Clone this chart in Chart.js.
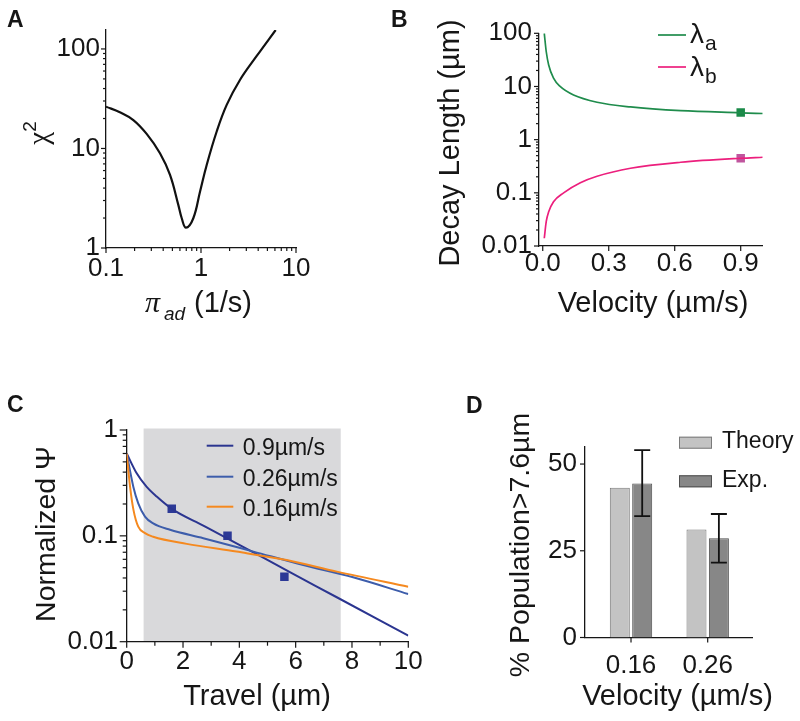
<!DOCTYPE html>
<html><head><meta charset="utf-8">
<script src="https://cdn.jsdelivr.net/npm/chart.js@4.4.0/dist/chart.umd.min.js"></script>
<style>
html,body{margin:0;padding:0;background:#fff;width:800px;height:721px;overflow:hidden;position:relative;}
canvas{position:absolute;}
</style></head><body>
<canvas id="cA" width="400" height="330" style="left:0px;top:0px;width:400px;height:330px"></canvas>
<canvas id="cB" width="420" height="330" style="left:380px;top:0px;width:420px;height:330px"></canvas>
<canvas id="cC" width="440" height="391" style="left:0px;top:330px;width:440px;height:391px"></canvas>
<canvas id="cD" width="360" height="391" style="left:440px;top:330px;width:360px;height:391px"></canvas>
<script>
// ---------- Panel A data ----------
const aX = [0.1, 0.14, 0.194, 0.268, 0.37, 0.472, 0.577, 0.627, 0.695, 0.83, 0.976, 1.148, 1.463, 1.864, 2.57, 3.86, 6.11];
const aY = [26.3, 23.1, 19.3, 14.0, 8.95, 5.42, 2.71, 1.99, 1.60, 1.99, 3.68, 6.83, 14.8, 27.4, 48.8, 85, 155];
const aXTicks = [0.1, 1, 10];
const aXLabels = ['0.1', '1', '10'];
const aYTicks = [1, 10, 100];
const aYLabels = ['1', '10', '100'];

// ---------- Panel B data ----------
const bXa = [0.007, 0.016, 0.027, 0.049, 0.079, 0.14, 0.247, 0.399, 0.627, 0.9, 1.0];
const bLamA = [100, 45, 25.4, 14.3, 10, 6.9, 5.05, 4.12, 3.5, 3.2, 3.1];
const bXb = [0.007, 0.016, 0.027, 0.049, 0.095, 0.171, 0.247, 0.399, 0.627, 0.9, 1.0];
const bLamB = [0.014, 0.029, 0.044, 0.068, 0.100, 0.155, 0.205, 0.29, 0.376, 0.447, 0.467];
const bMarkX = [0.9];
const bMarkA = [3.23];
const bMarkB = [0.447];
const bXTicks = [0, 0.3, 0.6, 0.9];
const bXLabels = ['0.0', '0.3', '0.6', '0.9'];
const bYTicks = [0.01, 0.1, 1, 10, 100];
const bYLabels = ['0.01', '0.1', '1', '10', '100'];

// ---------- Panel C data ----------
const cX09 = [0, 0.355, 0.71, 1.065, 1.6, 2.72, 3.9, 5.68, 7.46, 10];
const cY09 = [0.60, 0.39, 0.29, 0.235, 0.18, 0.125, 0.085, 0.0472, 0.0263, 0.0114];
const cX026 = [0, 0.237, 0.41, 0.65, 0.94, 1.54, 2.72, 4.5, 6.27, 8.04, 10];
const cY026 = [0.60, 0.29, 0.203, 0.152, 0.131, 0.114, 0.095, 0.071, 0.053, 0.0406, 0.0282];
const cX016 = [0, 0.12, 0.24, 0.41, 0.65, 0.94, 2.13, 3.9, 5.68, 7.46, 10];
const cY016 = [0.60, 0.29, 0.176, 0.122, 0.106, 0.098, 0.084, 0.071, 0.059, 0.0459, 0.0331];
const cExpX = [1.6, 3.58, 5.6];
const cExpY = [0.18, 0.10, 0.041];
const cShade = [0.6, 7.6];
const cSeries = ['0.9\u00b5m/s', '0.26\u00b5m/s', '0.16\u00b5m/s'];
const cXTicks = [0, 2, 4, 6, 8, 10];
const cXMinor = [1, 3, 5, 7, 9];
const cXLabels = ['0', '2', '4', '6', '8', '10'];
const cYTicks = [0.01, 0.1, 1];
const cYLabels = ['0.01', '0.1', '1'];

// ---------- Panel D data ----------
const dCats = ['0.16', '0.26'];
const dTheory = [43.2, 31.1];
const dExp = [44.4, 28.6];
const dErrLo = [35.0, 21.6];
const dErrHi = [54.0, 35.6];
const dYTicks = [0, 25, 50];
const dYLabels = ['0', '25', '50'];

// ---------- helpers ----------
const FF = "'Liberation Sans', Arial, Helvetica, sans-serif";
const SERIF = "'Liberation Serif', 'Times New Roman', serif";
const INK = '#161616';
const pts = (xs, ys) => xs.map((x, i) => ({x: x, y: ys[i]}));
function logMinor(lo, hi) {
  const r = [];
  for (let e = Math.floor(Math.log10(lo)); e <= Math.ceil(Math.log10(hi)); e++) {
    for (let m = 2; m <= 9; m++) { const v = m * Math.pow(10, e); if (v >= lo && v <= hi) r.push(v); }
  }
  return r;
}
function sc(type, min, max, tickVals, labels, pad, fit, pos) {
  return {
    type: type, min: min, max: max, position: pos, offset: false,
    grid: {display: false, drawTicks: false},
    border: {display: true, color: INK, width: 1.3},
    afterBuildTicks: s => { s.ticks = tickVals.map(v => ({value: v})); },
    afterFit: fit,
    ticks: {autoSkip: false, maxRotation: 0, minRotation: 0, color: INK, padding: pad,
      font: {family: FF, size: 26}, callback: (v, i) => labels[i]}
  };
}
function tickPlugin(list) {
  return {id: 'tickMarks', afterDraw(chart) {
    const ctx = chart.ctx, ca = chart.chartArea;
    ctx.save(); ctx.strokeStyle = INK; ctx.lineWidth = 1.2;
    list.forEach(t => {
      const s = chart.scales[t.axis];
      [[t.major, t.majLen], [t.minor || [], t.minLen]].forEach(([vals, len]) => {
        vals.forEach(v => {
          const p = s.getPixelForValue(v);
          ctx.beginPath();
          if (s.isHorizontal()) { ctx.moveTo(p, ca.bottom); ctx.lineTo(p, ca.bottom + len); }
          else { ctx.moveTo(ca.left, p); ctx.lineTo(ca.left - len, p); }
          ctx.stroke();
        });
      });
    });
    ctx.restore();
  }};
}
function T(text, x, y, font, opts) {
  return Object.assign({kind: 'text', x: x, y: y, runs: [{t: text, font: font}], align: 'left'}, opts || {});
}
function drawPlugin(ox, oy, items) {
  return {id: 'texts', afterDraw(chart) {
    const ctx = chart.ctx;
    items.forEach(it => {
      ctx.save();
      if (it.kind === 'line') {
        ctx.strokeStyle = it.color; ctx.lineWidth = it.width;
        ctx.beginPath(); ctx.moveTo(it.x1 - ox, it.y - oy); ctx.lineTo(it.x2 - ox, it.y - oy); ctx.stroke();
      } else if (it.kind === 'box') {
        ctx.fillStyle = it.fill; ctx.strokeStyle = it.stroke; ctx.lineWidth = 1;
        ctx.fillRect(it.x - ox, it.y - oy, it.w, it.h);
        ctx.strokeRect(it.x - ox + 0.5, it.y - oy + 0.5, it.w - 1, it.h - 1);
      } else {
        ctx.translate(it.x - ox, it.y - oy);
        if (it.rot) ctx.rotate(-Math.PI / 2);
        ctx.fillStyle = it.color || INK;
        ctx.textBaseline = 'alphabetic'; ctx.textAlign = 'left';
        let w = 0;
        it.runs.forEach(r => { ctx.font = r.font; r._w = ctx.measureText(r.t).width; w += (r.dx || 0) + r._w; });
        let cx = it.align === 'center' ? -w / 2 : (it.align === 'right' ? -w : 0);
        it.runs.forEach(r => { ctx.font = r.font; cx += (r.dx || 0); ctx.fillText(r.t, cx, r.dy || 0); cx += r._w; });
      }
      ctx.restore();
    });
  }};
}
const baseOpts = (pad) => ({
  responsive: false, animation: false, devicePixelRatio: 1,
  layout: {padding: pad},
  plugins: {legend: {display: false}, tooltip: {enabled: false}},
  elements: {point: {radius: 0, hoverRadius: 0}}
});
const TITLE = '29px ' + FF;

// ---------- Chart A ----------
(function () {
  const o = baseOpts({left: 0, top: 30, right: 104, bottom: 0});
  o.scales = {
    x: sc('logarithmic', 0.1, 10, aXTicks, aXLabels, 5, s => { s.height = 82; }, 'bottom'),
    y: sc('logarithmic', 1, 155, aYTicks, aYLabels, 6, s => { s.width = 106; }, 'left')
  };
  new Chart(document.getElementById('cA'), {
    type: 'line',
    data: {datasets: [{data: pts(aX, aY), borderColor: '#111', borderWidth: 2.2, pointRadius: 0,
      tension: 0.4, fill: false}]},
    options: o,
    plugins: [
      tickPlugin([
        {axis: 'x', major: aXTicks, majLen: 5, minor: logMinor(0.1, 10), minLen: 3},
        {axis: 'y', major: aYTicks, majLen: 5, minor: logMinor(1, 155), minLen: 3}
      ]),
      drawPlugin(0, 0, [
        T('A', 7, 27, 'bold 23px ' + FF),
        {kind: 'text', x: 48, y: 133, rot: true, align: 'center', runs: [
          {t: '\u03c7', font: '29px ' + SERIF}, {t: '2', font: '19px ' + FF, dy: -12}]},
        T('\u03c0', 145, 312, 'italic 30px ' + SERIF),
        T('ad', 164, 320, 'italic 19px ' + FF),
        T('(1/s)', 194, 312, TITLE)
      ])
    ]
  });
})();

// ---------- Chart B ----------
(function () {
  const ox = 380, oy = 0;
  const o = baseOpts({left: 0, top: 33.3, right: 37.3, bottom: 0});
  o.scales = {
    x: sc('linear', -0.017, 1.0, bXTicks, bXLabels, 2, s => { s.height = 84; }, 'bottom'),
    y: sc('logarithmic', 0.01, 100, bYTicks, bYLabels, 7, s => { s.width = 159; }, 'left')
  };
  new Chart(document.getElementById('cB'), {
    type: 'line',
    data: {datasets: [
      {data: pts(bXa, bLamA), borderColor: '#1f8c4c', borderWidth: 1.7, pointRadius: 0, cubicInterpolationMode: 'monotone'},
      {data: pts(bXb, bLamB), borderColor: '#ec1f7d', borderWidth: 1.7, pointRadius: 0, cubicInterpolationMode: 'monotone'},
      {data: pts(bMarkX, bMarkA), showLine: false, pointStyle: 'rect', pointRadius: 6, backgroundColor: '#1a8a48', borderWidth: 0},
      {data: pts(bMarkX, bMarkB), showLine: false, pointStyle: 'rect', pointRadius: 6, backgroundColor: '#c0559e', borderWidth: 0}
    ]},
    options: o,
    plugins: [
      tickPlugin([
        {axis: 'x', major: bXTicks, majLen: 5},
        {axis: 'y', major: bYTicks, majLen: 5, minor: logMinor(0.01, 100), minLen: 3}
      ]),
      drawPlugin(ox, oy, [
        T('B', 391, 27, 'bold 23px ' + FF),
        T('Decay Length (\u00b5m)', 459, 143, TITLE, {rot: true, align: 'center'}),
        T('Velocity (\u00b5m/s)', 653, 312, TITLE, {align: 'center'}),
        {kind: 'line', x1: 658, x2: 686, y: 35, color: '#1f8c4c', width: 1.7},
        {kind: 'line', x1: 658, x2: 686, y: 67, color: '#ec1f7d', width: 1.7},
        {kind: 'text', x: 690, y: 43, runs: [{t: '\u03bb', font: '28px ' + FF}, {t: 'a', font: '21px ' + FF, dy: 7, dx: 1}]},
        {kind: 'text', x: 690, y: 76, runs: [{t: '\u03bb', font: '28px ' + FF}, {t: 'b', font: '21px ' + FF, dy: 7, dx: 1}]}
      ])
    ]
  });
})();

// ---------- Chart C ----------
(function () {
  const ox = 0, oy = 330;
  const o = baseOpts({left: 0, top: 100, right: 31.7, bottom: 0});
  o.scales = {
    x: sc('linear', 0, 10, cXTicks, cXLabels, 4.5, s => { s.height = 79.3; }, 'bottom'),
    y: sc('logarithmic', 0.01, 1, cYTicks, cYLabels, 8.7, s => { s.width = 126.7; }, 'left')
  };
  const colors = ['#2b3590', '#3d5dab', '#f5891f'];
  const shade = {id: 'shade', beforeDatasetsDraw(chart) {
    const ctx = chart.ctx, sx = chart.scales.x, sy = chart.scales.y;
    const x1 = sx.getPixelForValue(cShade[0]), x2 = sx.getPixelForValue(cShade[1]);
    const y1 = sy.getPixelForValue(1), y2 = sy.getPixelForValue(0.01);
    ctx.save(); ctx.fillStyle = '#d9d9db'; ctx.fillRect(x1, y1 - 1.5, x2 - x1, y2 - y1 + 0.8); ctx.restore();
  }};
  new Chart(document.getElementById('cC'), {
    type: 'line',
    data: {datasets: [
      {data: pts(cX016, cY016), borderColor: colors[2], borderWidth: 2, pointRadius: 0, cubicInterpolationMode: 'monotone'},
      {data: pts(cX026, cY026), borderColor: colors[1], borderWidth: 2, pointRadius: 0, cubicInterpolationMode: 'monotone'},
      {data: pts(cX09, cY09), borderColor: colors[0], borderWidth: 2, pointRadius: 0, cubicInterpolationMode: 'monotone'},
      {data: pts(cExpX, cExpY), showLine: false, pointStyle: 'rect', pointRadius: 6, backgroundColor: '#2c3996', borderWidth: 0}
    ]},
    options: o,
    plugins: [
      shade,
      tickPlugin([
        {axis: 'x', major: cXTicks, majLen: 6, minor: cXMinor, minLen: 4},
        {axis: 'y', major: cYTicks, majLen: 7, minor: logMinor(0.01, 1), minLen: 4}
      ]),
      drawPlugin(ox, oy, [
        T('C', 7, 411.5, 'bold 23px ' + FF),
        T('Normalized \u03a8', 55, 534, '28.5px ' + FF, {rot: true, align: 'center'}),
        T('Travel (\u00b5m)', 257, 705, TITLE, {align: 'center'}),
        {kind: 'line', x1: 206.7, x2: 233.3, y: 445.7, color: colors[0], width: 2},
        {kind: 'line', x1: 206.7, x2: 233.3, y: 476.7, color: colors[1], width: 2},
        {kind: 'line', x1: 206.7, x2: 233.3, y: 506.7, color: colors[2], width: 2},
        T(cSeries[0], 242.7, 455.2, '23px ' + FF),
        T(cSeries[1], 242.7, 486.2, '23px ' + FF),
        T(cSeries[2], 242.7, 516.2, '23px ' + FF)
      ])
    ]
  });
})();

// ---------- Chart D ----------
(function () {
  const ox = 440, oy = 330;
  const o = baseOpts({left: 0, top: 116.7, right: 47.3, bottom: 0});
  o.scales = {
    x: sc('linear', -0.6, 1.587, [0, 1], dCats, 12.5, s => { s.height = 83.5; }, 'bottom'),
    y: sc('linear', 0, 55, dYTicks, dYLabels, 8, s => { s.width = 145; }, 'left')
  };
  const thFill = '#c3c3c3', thLine = '#7a7a7a', exFill = '#878787', exLine = '#4f4f4f';
  const errBars = {id: 'errBars', afterDatasetsDraw(chart) {
    const ctx = chart.ctx, sy = chart.scales.y, meta = chart.getDatasetMeta(1);
    ctx.save(); ctx.strokeStyle = '#111'; ctx.lineWidth = 1.8;
    meta.data.forEach((bar, i) => {
      const yh = sy.getPixelForValue(dErrHi[i]), yl = sy.getPixelForValue(dErrLo[i]);
      ctx.beginPath();
      ctx.moveTo(bar.x, yh); ctx.lineTo(bar.x, yl);
      ctx.moveTo(bar.x - 8, yh); ctx.lineTo(bar.x + 8, yh);
      ctx.moveTo(bar.x - 8, yl); ctx.lineTo(bar.x + 8, yl);
      ctx.stroke();
    });
    ctx.restore();
  }};
  new Chart(document.getElementById('cD'), {
    type: 'bar',
    data: {datasets: [
      {label: 'Theory', data: pts([0, 1], dTheory), backgroundColor: thFill, borderColor: thLine, borderWidth: 1,
        categoryPercentage: 0.584, barPercentage: 0.893},
      {label: 'Exp.', data: pts([0, 1], dExp), backgroundColor: exFill, borderColor: exLine, borderWidth: 1,
        categoryPercentage: 0.584, barPercentage: 0.893}
    ]},
    options: o,
    plugins: [
      errBars,
      tickPlugin([
        {axis: 'x', major: [0, 1], majLen: 5},
        {axis: 'y', major: dYTicks, majLen: 5}
      ]),
      drawPlugin(ox, oy, [
        T('D', 466, 413, 'bold 23px ' + FF),
        T('% Population>7.6\u00b5m', 529, 545, '28.5px ' + FF, {rot: true, align: 'center'}),
        T('Velocity (\u00b5m/s)', 677.5, 705, TITLE, {align: 'center'}),
        {kind: 'box', x: 679, y: 436.7, w: 33, h: 12, fill: thFill, stroke: thLine},
        {kind: 'box', x: 679, y: 475.3, w: 33, h: 12, fill: exFill, stroke: exLine},
        T('Theory', 722, 448.3, '23px ' + FF),
        T('Exp.', 722, 487.3, '23px ' + FF)
      ])
    ]
  });
})();
</script>
</body></html>
